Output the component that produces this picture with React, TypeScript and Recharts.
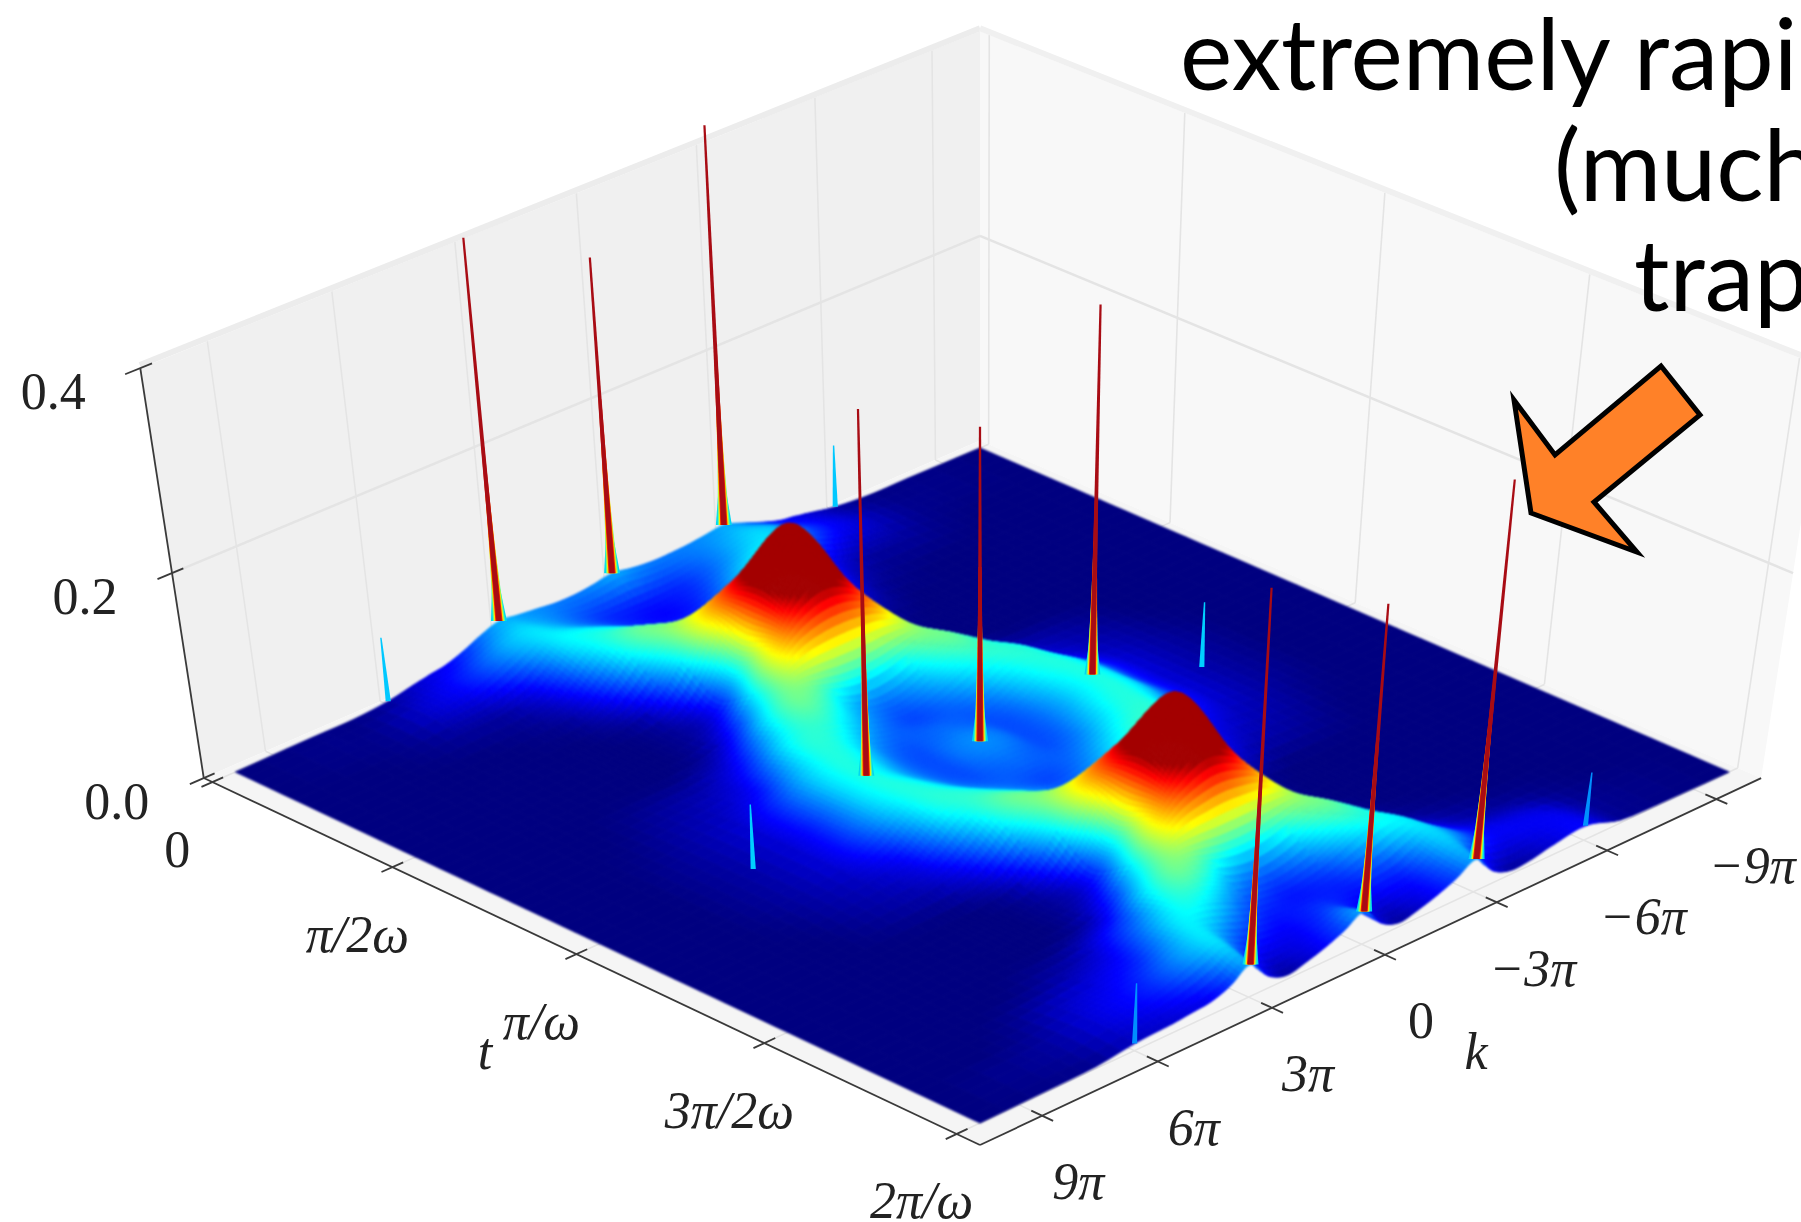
import { ComposedChart, Scatter, XAxis, YAxis } from 'recharts'

const WIDTH = 1801
const HEIGHT = 1222

// surface samples: t in units of pi/omega, k in units of pi, z in thousandths
const tGrid = [0, 0.1, 0.2, 0.3, 0.4, 0.5, 0.6, 0.7, 0.8, 0.9, 1, 1.1, 1.2, 1.3, 1.4, 1.5, 1.6, 1.7, 1.8, 1.9, 2]
const kGrid = [-10, -8, -7, -6, -5, -4.5, -4, -3.5, -3, -2.5, -2, -1.5, -1, -0.5, 0, 0.5, 1, 1.5, 2, 2.5, 3, 3.5, 4, 4.5, 5, 6, 7, 8, 10]
const zRows = [
  [0, 1, 1, 4, 11, 14, 20, 27, 33, 31, 29, 28, 28, 30, 33, 30, 28, 28, 30, 32, 34, 28, 20, 14, 11, 4, 1, 1, 0],
  [0, 1, 2, 7, 14, 20, 28, 36, 39, 36, 30, 24, 19, 17, 16, 17, 19, 24, 30, 36, 40, 36, 28, 20, 14, 8, 2, 1, 0],
  [0, 0, 1, 3, 4, 7, 13, 25, 40, 45, 43, 36, 27, 20, 18, 20, 27, 36, 43, 45, 40, 25, 13, 7, 4, 3, 1, 0, 0],
  [0, 0, 0, 0, 1, 2, 5, 13, 27, 44, 55, 55, 48, 42, 40, 42, 48, 55, 55, 44, 27, 13, 5, 2, 1, 0, 0, 0, 0],
  [0, 0, 0, 0, 0, 0, 1, 3, 9, 22, 43, 68, 88, 100, 105, 100, 88, 68, 43, 22, 9, 3, 1, 0, 0, 0, 0, 0, 0],
  [0, 0, 0, 0, 0, 0, 0, 1, 3, 8, 22, 52, 96, 141, 160, 141, 96, 52, 22, 8, 3, 1, 0, 0, 0, 0, 0, 0, 0],
  [0, 0, 0, 0, 0, 0, 1, 3, 9, 22, 43, 68, 88, 100, 104, 100, 88, 68, 43, 22, 9, 3, 1, 0, 0, 0, 0, 0, 0],
  [0, 0, 0, 2, 4, 5, 8, 14, 27, 44, 55, 55, 48, 42, 40, 42, 48, 55, 55, 44, 27, 14, 8, 5, 4, 2, 0, 0, 0],
  [0, 0, 1, 4, 7, 10, 15, 28, 43, 48, 47, 40, 32, 26, 23, 26, 32, 40, 47, 48, 43, 28, 15, 10, 7, 4, 1, 0, 0],
  [0, 0, 2, 5, 10, 16, 26, 38, 46, 45, 37, 28, 24, 25, 26, 25, 24, 28, 37, 45, 46, 38, 26, 16, 10, 5, 2, 0, 0],
  [0, 0, 2, 5, 10, 16, 27, 40, 46, 41, 32, 25, 23, 28, 30, 28, 23, 25, 32, 41, 46, 40, 27, 16, 10, 5, 2, 0, 0],
  [0, 0, 2, 5, 10, 16, 26, 38, 46, 45, 37, 28, 24, 25, 26, 25, 24, 28, 37, 45, 46, 38, 26, 16, 10, 5, 2, 0, 0],
  [0, 0, 1, 4, 7, 10, 15, 28, 43, 48, 47, 40, 32, 26, 23, 26, 32, 40, 47, 48, 43, 28, 15, 10, 7, 4, 1, 0, 0],
  [0, 0, 0, 2, 4, 5, 8, 14, 27, 44, 55, 55, 48, 42, 40, 42, 48, 55, 55, 44, 27, 14, 8, 5, 4, 2, 0, 0, 0],
  [0, 0, 0, 0, 0, 0, 1, 3, 9, 22, 43, 68, 88, 100, 104, 100, 88, 68, 43, 22, 9, 3, 1, 0, 0, 0, 0, 0, 0],
  [0, 0, 0, 0, 0, 0, 0, 1, 3, 8, 22, 52, 96, 141, 160, 141, 96, 52, 22, 8, 3, 1, 0, 0, 0, 0, 0, 0, 0],
  [0, 0, 0, 0, 0, 0, 1, 3, 9, 22, 43, 68, 88, 100, 105, 100, 88, 68, 43, 22, 9, 3, 1, 0, 0, 0, 0, 0, 0],
  [0, 0, 0, 0, 1, 2, 5, 13, 27, 44, 55, 55, 48, 42, 40, 42, 48, 55, 55, 44, 27, 18, 10, 6, 4, 1, 0, 0, 0],
  [0, 0, 1, 3, 5, 8, 14, 26, 40, 44, 40, 32, 24, 20, 18, 20, 24, 32, 40, 44, 40, 28, 18, 14, 11, 7, 2, 0, 0],
  [0, 1, 3, 11, 13, 14, 20, 30, 38, 28, 19, 17, 15, 17, 20, 17, 14, 15, 19, 28, 40, 34, 26, 19, 15, 10, 4, 2, 0],
  [0, 1, 3, 14, 9, 5, 4, 12, 32, 22, 14, 8, 4, 12, 32, 22, 14, 8, 4, 12, 32, 20, 13, 11, 9, 7, 2, 1, 0],
]

// the narrow spikes: where they stand and how high the tip reaches
const spikeT = [0, 0, 0, 1, 1, 1, 2, 2, 2]
const spikeK = [3, 0, -3, 3, 0, -3, 3, 0, -3]
const spikeTip = [0.408, 0.341, 0.423, 0.404, 0.337, 0.407, 0.401, 0.333, 0.403]
const minorT = [0, 0, 1, 1, 2, 2]
const minorK = [6, -6, 6, -6, 6, -6]
const minorTip = [0.066, 0.064, 0.068, 0.068, 0.066, 0.066]
const minorColor = ['#00c8ff', '#00c8ff', '#00d0ff', '#00d0ff', '#0090ff', '#0090ff']

const tTicks = [0, 0.5, 1, 1.5, 2]
const tLabels = ['0', 'π/2ω', 'π/ω', '3π/2ω', '2π/ω']
const kTicks = [9, 6, 3, 0, -3, -6, -9]
const kLabels = ['9π', '6π', '3π', '0', '−3π', '−6π', '−9π']
const zTicks = [0, 0.2, 0.4]
const zLabels = ['0.0', '0.2', '0.4']

const titleLines = ['extremely rapid', '(much', 'trap']
const arrowOutline = [[1514, 400], [1555, 455], [1661, 366], [1700, 415], [1594, 502], [1637, 552], [1531, 513]]

// square to quad perspective map for the floor, corners
const corners = { back: [980, 448], right: [1729, 772], front: [980, 1123], left: [235.5, 772] }
const vanish = [980, 5789]

function makeFloor() {
  const [x0, y0] = corners.back
  const [x1, y1] = corners.right
  const [x2, y2] = corners.front
  const [x3, y3] = corners.left
  const dx1 = x1 - x2
  const dx2 = x3 - x2
  const sx = x0 - x1 + x2 - x3
  const dy1 = y1 - y2
  const dy2 = y3 - y2
  const sy = y0 - y1 + y2 - y3
  const det = dx1 * dy2 - dx2 * dy1
  const g = (sx * dy2 - dx2 * sy) / det
  const h = (dx1 * sy - sx * dy1) / det
  const a = x1 - x0 + g * x1
  const b = x3 - x0 + h * x3
  const d = y1 - y0 + g * y1
  const e = y3 - y0 + h * y3
  return (u: number, v: number) => {
    const w = g * u + h * v + 1
    return [(a * u + b * v + x0) / w, (d * u + e * v + y0) / w]
  }
}
const floor = makeFloor()

function projectUV(u: number, v: number, z: number) {
  const [fx, fy] = floor(u, v)
  // nearer parts of the box rise a bit more than the back corner
  const rise = 0.0764 + (fy - 434) * 0.0000157
  const s = (z / 0.4) * rise
  return { x: fx + (fx - vanish[0]) * s, y: fy + (fy - vanish[1]) * s }
}
const uOf = (t: number) => t / 2
const vOf = (k: number) => (k + 10) / 20
const project = (t: number, k: number, z: number) => projectUV(uOf(t), vOf(k), z)

const U_MIN = -0.012
const U_MAX = 1.03
const V_MIN = -0.012
const V_MAX = 1.03

function jet(z: number) {
  const n = Math.min(z / 0.115, 0.965)
  const c = (p: number) => Math.round(255 * Math.max(0, Math.min(1, 1.5 - Math.abs(4 * n - p))))
  return `rgb(${c(3)},${c(2)},${c(1)})`
}

// surface cells, painted from the back corner forward
const cells: any[] = []
for (let i = 0; i < tGrid.length - 1; i++) {
  for (let j = 0; j < kGrid.length - 1; j++) {
    const z = zRows[i][j] / 1000
    cells.push({
      ...project(tGrid[i], kGrid[j], z),
      i,
      j,
      peak: Math.max(zRows[i][j], zRows[i][j + 1], zRows[i + 1][j], zRows[i + 1][j + 1]),
      depth: uOf(tGrid[i]) + uOf(tGrid[i + 1]) + vOf(kGrid[j]) + vOf(kGrid[j + 1]),
    })
  }
}
cells.sort((a, b) => a.depth - b.depth)

const spline = (p0: number, p1: number, p2: number, p3: number, s: number) =>
  0.5 * (2 * p1 + (p2 - p0) * s + (2 * p0 - 5 * p1 + 4 * p2 - p3) * s * s + (3 * p1 - p0 - 3 * p2 + p3) * s * s * s)

// smooth shading across a cell, so the coarse samples read as a soft surface
function surfaceHeight(i: number, j: number, a: number, b: number) {
  const row = (r: number) => {
    const vals = zRows[Math.max(0, Math.min(zRows.length - 1, r))]
    const at = (c: number) => vals[Math.max(0, Math.min(kGrid.length - 1, c))]
    return spline(at(j - 1), at(j), at(j + 1), at(j + 2), b)
  }
  return Math.max(0, spline(row(i - 1), row(i), row(i + 1), row(i + 2), a)) / 1000
}

function CellShape({ cx, cy, payload: c }: any) {
  const N = c.peak > 50 ? 10 : c.peak > 12 ? 6 : 3
  const facets = []
  const dx = cx - c.x
  const dy = cy - c.y
  const u0 = uOf(tGrid[c.i])
  const u1 = uOf(tGrid[c.i + 1])
  const v0 = vOf(kGrid[c.j])
  const v1 = vOf(kGrid[c.j + 1])
  const pt = (a: number, b: number) => {
    const p = projectUV(u0 + (u1 - u0) * a, v0 + (v1 - v0) * b, surfaceHeight(c.i, c.j, a, b))
    return `${(p.x + dx).toFixed(1)},${(p.y + dy).toFixed(1)}`
  }
  for (let s = 0; s < N; s++) {
    for (let r = 0; r < N; r++) {
      const a0 = s / N
      const a1 = (s + 1) / N
      const b0 = r / N
      const b1 = (r + 1) / N
      const col = jet(surfaceHeight(c.i, c.j, (a0 + a1) / 2, (b0 + b1) / 2))
      facets.push(
        <polygon
          key={`${s}-${r}`}
          points={`${pt(a0, b0)} ${pt(a1, b0)} ${pt(a1, b1)} ${pt(a0, b1)}`}
          fill={col}
          stroke={col}
          strokeWidth={1}
        />,
      )
    }
  }
  return <g>{facets}</g>
}

// generic pieces
const seg = (a: any, b: any, stroke: string, width: number) => ({ ...a, x2: b.x, y2: b.y, stroke, width })

function SegmentShape({ cx, cy, payload: s }: any) {
  return <line x1={cx} y1={cy} x2={cx + s.x2 - s.x} y2={cy + s.y2 - s.y} stroke={s.stroke} strokeWidth={s.width} />
}

function PolyShape({ cx, cy, payload: s }: any) {
  const pts = s.points.map((p: any) => `${cx + p.x - s.x},${cy + p.y - s.y}`).join(' ')
  return <polygon points={pts} fill={s.fill} stroke={s.stroke ?? 'none'} strokeWidth={s.width ?? 0} strokeLinejoin="miter" strokeMiterlimit={8} />
}

function TextShape({ cx, cy, payload: s }: any) {
  return (
    <text
      x={cx}
      y={cy}
      textAnchor={s.anchor ?? 'middle'}
      dominantBaseline={s.baseline ?? 'central'}
      fontFamily={s.font}
      fontSize={s.size}
      fontStyle={s.italic ? 'italic' : 'normal'}
      fill={s.fill ?? '#222'}
    >
      {s.text}
    </text>
  )
}

const pane = (pts: any[], fill: string) => ({ ...pts[0], points: pts, fill })

const panes = [
  pane(
    [projectUV(U_MIN, V_MAX, 0), projectUV(U_MIN, V_MIN, 0), projectUV(U_MIN, V_MIN, 0.4), projectUV(U_MIN, V_MAX, 0.4)],
    '#f0f0f0',
  ),
  pane(
    [projectUV(U_MIN, V_MIN, 0), projectUV(U_MAX, V_MIN, 0), projectUV(U_MAX, V_MIN, 0.4), projectUV(U_MIN, V_MIN, 0.4)],
    '#f8f8f8',
  ),
  pane(
    [projectUV(U_MIN, V_MIN, 0), projectUV(U_MAX, V_MIN, 0), projectUV(U_MAX, V_MAX, 0), projectUV(U_MIN, V_MAX, 0)],
    '#f5f5f5',
  ),
]

const GRID = '#e4e4e4'
const gridLines = [
  ...kTicks.map((k) => seg(projectUV(U_MIN, vOf(k), 0), projectUV(U_MIN, vOf(k), 0.4), GRID, 1.6)),
  ...tTicks.map((t) => seg(projectUV(uOf(t), V_MIN, 0), projectUV(uOf(t), V_MIN, 0.4), GRID, 1.6)),
  seg(projectUV(U_MIN, V_MAX, 0.2), projectUV(U_MIN, V_MIN, 0.2), GRID, 2.5),
  seg(projectUV(U_MIN, V_MIN, 0.2), projectUV(U_MAX, V_MIN, 0.2), GRID, 2.5),
  ...kTicks.map((k) => seg(projectUV(U_MIN, vOf(k), 0), projectUV(U_MAX, vOf(k), 0), GRID, 1.6)),
  ...tTicks.map((t) => seg(projectUV(uOf(t), V_MIN, 0), projectUV(uOf(t), V_MAX, 0), GRID, 1.6)),
  seg(projectUV(U_MIN, V_MAX, 0.403), projectUV(U_MIN, V_MIN, 0.403), '#ececec', 6),
  seg(projectUV(U_MIN, V_MIN, 0.403), projectUV(U_MAX, V_MIN, 0.403), '#f0f0f0', 6),
]

const AXIS = '#3a3a3a'
const axisLines = [
  seg(projectUV(U_MIN, V_MAX, 0), projectUV(U_MIN, V_MAX, 0.4), AXIS, 1.8),
  seg(projectUV(U_MIN, V_MAX, 0), projectUV(U_MAX, V_MAX, 0), AXIS, 1.8),
  seg(projectUV(U_MAX, V_MAX, 0), projectUV(U_MAX, V_MIN, 0), AXIS, 1.8),
  ...tTicks.map((t) => seg(projectUV(uOf(t), V_MAX - 0.014, 0), projectUV(uOf(t), V_MAX + 0.014, 0), AXIS, 1.8)),
  ...kTicks.map((k) => seg(projectUV(U_MAX - 0.014, vOf(k), 0), projectUV(U_MAX + 0.014, vOf(k), 0), AXIS, 1.8)),
  ...zTicks.map((z) => seg(projectUV(U_MIN, V_MAX - 0.014, z), projectUV(U_MIN, V_MAX + 0.018, z), AXIS, 1.8)),
]

function baseHeight(t: number, k: number) {
  return zRows[tGrid.indexOf(t)][kGrid.indexOf(k)] / 1000
}

const spikes = spikeT.map((t, i) => {
  const base = baseHeight(t, spikeK[i])
  return { ...project(t, spikeK[i], base), t, k: spikeK[i], base, tip: spikeTip[i] }
})
const minors = minorT.map((t, i) => {
  const base = baseHeight(t, minorK[i])
  return { ...project(t, minorK[i], base), t, k: minorK[i], base, tip: minorTip[i], color: minorColor[i] }
})

function wedge(t: number, k: number, z0: number, z1: number, w0: number, w1: number, dx: number, dy: number) {
  const a = project(t, k, z0)
  const b = project(t, k, z1)
  return `${a.x - w0 + dx},${a.y + dy} ${a.x + w0 + dx},${a.y + dy} ${b.x + w1 + dx},${b.y + dy} ${b.x - w1 + dx},${b.y + dy}`
}

function SpikeShape({ cx, cy, payload: s }: any) {
  const dx = cx - s.x
  const dy = cy - s.y
  return (
    <g>
      <polygon points={wedge(s.t, s.k, s.base, s.base + 0.06, 8, 0.5, dx, dy)} fill="#00d8f0" />
      <polygon points={wedge(s.t, s.k, s.base, s.base + 0.1, 6, 1.4, dx, dy)} fill="#60ff90" />
      <polygon points={wedge(s.t, s.k, s.base, s.base + 0.13, 4.8, 1.6, dx, dy)} fill="#ffe000" />
      <polygon points={wedge(s.t, s.k, s.base, s.base + 0.17, 3.6, 1.5, dx, dy)} fill="#f02000" />
      <polygon points={wedge(s.t, s.k, s.base, s.tip, 2.6, 1.1, dx, dy)} fill="#a80c14" />
    </g>
  )
}

function MinorShape({ cx, cy, payload: s }: any) {
  const dx = cx - s.x
  const dy = cy - s.y
  return <polygon points={wedge(s.t, s.k, s.base, s.tip, 2.6, 0.7, dx, dy)} fill={s.color} />
}

const SERIF = '"Liberation Serif", serif'
const tickText = [
  ...tTicks.map((t, i) => {
    const p = projectUV(uOf(t), V_MAX, 0)
    return { x: p.x - 35, y: p.y + 67, text: tLabels[i], font: SERIF, size: 52, italic: i > 0 }
  }),
  ...kTicks.map((k, i) => {
    const p = projectUV(U_MAX, vOf(k), 0)
    return { x: p.x + 36, y: p.y + 66, text: kLabels[i], font: SERIF, size: 52, italic: k !== 0 }
  }),
  ...zTicks.map((z, i) => {
    const p = projectUV(U_MIN, V_MAX, z)
    return { x: p.x - 87, y: p.y + 23, text: zLabels[i], font: SERIF, size: 52 }
  }),
  { x: 485, y: 1051, text: 't', font: SERIF, size: 52, italic: true },
  { x: 1476, y: 1051, text: 'k', font: SERIF, size: 52, italic: true },
]

const GILL = 'Lato, "Noto Sans", sans-serif'
const titleText = [
  { x: 1180, y: 90, text: titleLines[0], font: GILL, size: 99, anchor: 'start', baseline: 'auto', fill: '#000' },
  { x: 1554, y: 201, text: titleLines[1], font: GILL, size: 99, anchor: 'start', baseline: 'auto', fill: '#000' },
  { x: 1634, y: 311, text: titleLines[2], font: GILL, size: 99, anchor: 'start', baseline: 'auto', fill: '#000' },
]

const arrowPoints = arrowOutline.map(([x, y]) => ({ x, y }))
const arrow = [{ ...arrowPoints[0], points: arrowPoints, fill: '#ff8128', stroke: '#000', width: 5 }]

export default function App() {
  return (
    <div style={{ position: 'absolute', left: 0, top: 0, width: WIDTH, height: HEIGHT, overflow: 'hidden', background: '#fff' }}>
      <style>{`.soft { filter: blur(0.8px); }`}</style>
      <ComposedChart width={WIDTH} height={HEIGHT} margin={{ top: 0, right: 0, bottom: 0, left: 0 }}>
        <XAxis type="number" dataKey="x" domain={[0, WIDTH]} allowDataOverflow hide />
        <YAxis type="number" dataKey="y" domain={[0, HEIGHT]} reversed allowDataOverflow hide />
        <Scatter data={panes} shape={PolyShape} isAnimationActive={false} />
        <Scatter data={gridLines} shape={SegmentShape} isAnimationActive={false} />
        <Scatter data={axisLines} shape={SegmentShape} isAnimationActive={false} />
        <Scatter className="soft" data={cells} shape={CellShape} isAnimationActive={false} />
        <Scatter data={minors} shape={MinorShape} isAnimationActive={false} />
        <Scatter data={spikes} shape={SpikeShape} isAnimationActive={false} />
        <Scatter data={tickText} shape={TextShape} isAnimationActive={false} />
        <Scatter data={titleText} shape={TextShape} isAnimationActive={false} />
        <Scatter data={arrow} shape={PolyShape} isAnimationActive={false} />
      </ComposedChart>
    </div>
  )
}
